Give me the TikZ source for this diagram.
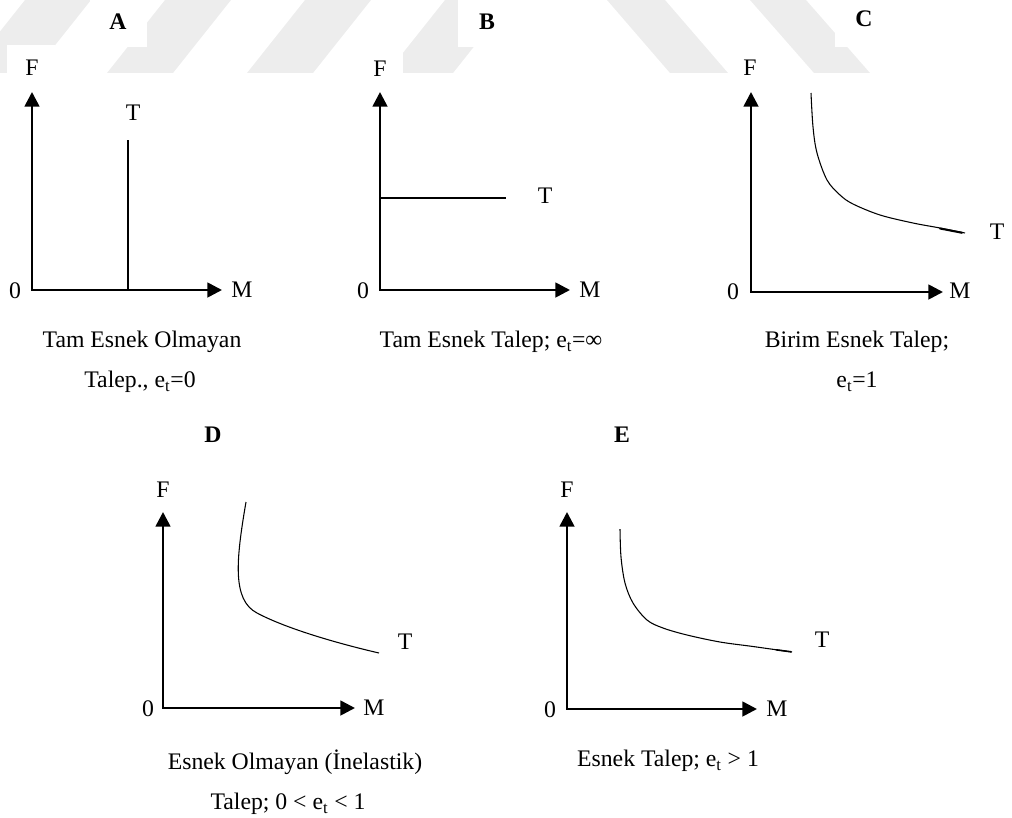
\documentclass[tikz,border=0pt]{standalone}
\usepackage{fontspec}
\setmainfont{Liberation Serif}
\usetikzlibrary{arrows.meta}
\begin{document}
\begin{tikzpicture}[x=0.75pt,y=-0.75pt,
  lbl/.style={inner sep=0pt, text height=11.8pt, text depth=0pt, font=\fontsize{17.8}{21}\selectfont},
  ttl/.style={lbl, font=\fontsize{17.8}{21}\selectfont\bfseries},
  axes/.style={line width=2pt, line join=miter, {Triangle[length=11pt,width=11pt]}-{Triangle[length=11pt,width=11pt]}},
  crv/.style={line width=0.8pt},
  wm/.style={fill=black!7, draw=none},
  wbox/.style={fill=white, draw=none}]
\useasboundingbox (0,0) rectangle (1012,817);
% watermark stripes
\fill[wm] (25,0) -- (91,0) -- (33,73) -- (-33,73) -- cycle;
\fill[wm] (165,0) -- (231,0) -- (173,73) -- (107,73) -- cycle;
\fill[wm] (305,0) -- (371,0) -- (313,73) -- (247,73) -- cycle;
\fill[wm] (445,0) -- (511,0) -- (453,73) -- (387,73) -- cycle;
\fill[wm] (607,0) -- (665,0) -- (728,73) -- (670,73) -- cycle;
\fill[wm] (750,0) -- (806,0) -- (870,73) -- (814,73) -- cycle;
\fill[wbox] (0,73) rectangle (1012,90);
\fill[wbox] (-40,0) rectangle (0,80);
\fill[wbox] (7,45) rectangle (55,83);
\fill[wbox] (90,0) rectangle (147,47);
\fill[wbox] (350,47) rectangle (403,83);
\fill[wbox] (458,0) rectangle (520,47);
\fill[wbox] (835,0) rectangle (900,47);

% ---------- Panel A ----------
\node[ttl] (aA) at (118,22) {A};
\coordinate (aO) at (32,290);
\coordinate (aY) at (32,92);
\coordinate (aX) at (222,290);
\draw[axes] (aY) -- (aO) -- (aX);
\node[lbl] (aF) at (32,68) {F};
\node[lbl] (a0) at (15,291) {0};
\node[lbl] (aM) at (242,290) {M};
\coordinate (aT1) at (128,140);
\coordinate (aT0) at (128,290);
\draw[crv] (aT1) -- (aT0);
\node[lbl] (aT) at (133,113) {T};
\node[lbl] (ac1) at (142,340) {Tam Esnek Olmayan};
\node[lbl] (ac2) at (140,380) {Talep., e\textsubscript{t}=0};

% ---------- Panel B ----------
\node[ttl] (bB) at (487,22) {B};
\coordinate (bO) at (380,290);
\coordinate (bY) at (380,92);
\coordinate (bX) at (570,290);
\draw[axes] (bY) -- (bO) -- (bX);
\node[lbl] (bF) at (380,69) {F};
\node[lbl] (b0) at (363,291) {0};
\node[lbl] (bM) at (590,290) {M};
\coordinate (bT0) at (380,198);
\coordinate (bT1) at (506,198);
\draw[crv] (bT0) -- (bT1);
\node[lbl] (bT) at (545,196) {T};
\node[lbl] (bc1) at (491,340) {Tam Esnek Talep; e\textsubscript{t}=∞};

% ---------- Panel C ----------
\node[ttl] (cC) at (864,19) {C};
\coordinate (cO) at (751,292);
\coordinate (cY) at (751,92);
\coordinate (cX) at (943,292);
\draw[axes] (cY) -- (cO) -- (cX);
\node[lbl] (cF) at (750,68) {F};
\node[lbl] (c0) at (733,292) {0};
\node[lbl] (cM) at (960,291) {M};
\draw[crv] plot[smooth, tension=0.55] coordinates {(811,93) (813,127) (817,153) (827,180) (840,195) (853,204) (880,215) (913,223) (940,228) (965,233)};
\draw[line width=1.5pt, line cap=round] (940,228.5) -- (962,232.8);
\node[lbl] (cT) at (997,232) {T};
\node[lbl] (cc1) at (857,340) {Birim Esnek Talep;};
\node[lbl] (cc2) at (857,380) {e\textsubscript{t}=1};

% ---------- Panel D ----------
\node[ttl] (dD) at (213,435) {D};
\coordinate (dO) at (163,708);
\coordinate (dY) at (163,512);
\coordinate (dX) at (355,708);
\draw[axes] (dY) -- (dO) -- (dX);
\node[lbl] (dF) at (163,490) {F};
\node[lbl] (d0) at (148,709) {0};
\node[lbl] (dM) at (374,708) {M};
\coordinate (dC0) at (246,502);
\coordinate (dC1) at (257,613);
\coordinate (dC2) at (379,653);
\draw[crv] (dC0) .. controls (236,560) and (232,600) .. (dC1)
                 .. controls (287,629) and (340,644) .. (dC2);
\node[lbl] (dT) at (405,642) {T};
\node[lbl] (dc1) at (295,762) {Esnek Olmayan (İnelastik)};
\node[lbl] (dc2) at (288,802) {Talep; 0 < e\textsubscript{t} < 1};

% ---------- Panel E ----------
\node[ttl] (eE) at (622,435) {E};
\coordinate (eO) at (567,709);
\coordinate (eY) at (567,512);
\coordinate (eX) at (757,709);
\draw[axes] (eY) -- (eO) -- (eX);
\node[lbl] (eF) at (567,490) {F};
\node[lbl] (e0) at (550,710) {0};
\node[lbl] (eM) at (777,709) {M};
\draw[crv] plot[smooth, tension=0.55] coordinates {(620,529) (621,557) (625,583) (633,603) (647,620) (663,628) (687,635) (720,642) (753,646.5) (792,652)};
\draw[line width=1.2pt, line cap=round] (776,649.8) -- (791,651.8);
\node[lbl] (eT) at (822,640) {T};
\node[lbl] (ec1) at (668,759) {Esnek Talep; e\textsubscript{t} > 1};
\end{tikzpicture}
\end{document}
